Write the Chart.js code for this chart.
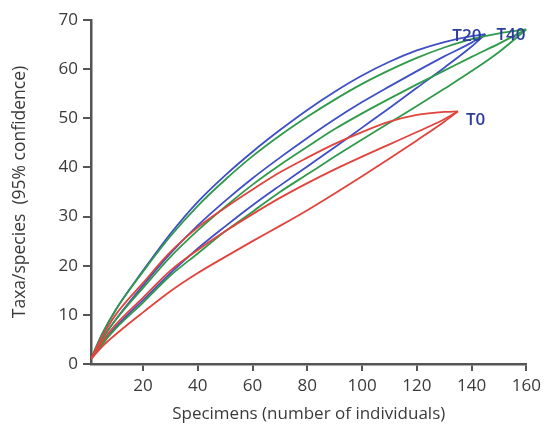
<!DOCTYPE html>
<html>
<head>
<meta charset="utf-8">
<script src="https://cdn.jsdelivr.net/npm/chart.js@4/dist/chart.umd.min.js"></script>
<style>
  html, body { margin: 0; padding: 0; background: #fff; }
  #wrap { width: 546px; height: 430px; }
</style>
</head>
<body>
<div id="wrap"><canvas id="chart"></canvas></div>
<script>
// tick labels
const xTicks = [20, 40, 60, 80, 100, 120, 140, 160];
const yTicks = [0, 10, 20, 30, 40, 50, 60, 70];

// T0 (red) - specimens and taxa (upper / mean / lower)
const t0X     = [1, 5, 10, 20, 30, 40, 50, 60, 70, 80, 90, 100, 110, 120, 130, 135];
const t0Upper = [1, 5.5, 10, 16.5, 22.8, 27.8, 31.8, 35.5, 39, 42, 44.8, 47.2, 49.3, 50.7, 51.3, 51.4];
const t0Mean  = [1, 4.5, 8, 13.5, 19, 23.2, 27, 30.5, 33.8, 36.8, 39.6, 42.2, 44.7, 47.2, 49.8, 51.4];
const t0Lower = [1, 3.5, 6, 10.5, 14.8, 18.5, 21.8, 25, 28.1, 31.3, 34.7, 38.2, 41.8, 45.5, 49.3, 51.4];

// T20 (blue)
const t20X     = [1, 5, 10, 20, 30, 40, 50, 60, 70, 80, 90, 100, 110, 120, 130, 140, 145];
const t20Upper = [1, 6, 11, 19, 26.5, 33, 38.4, 43.2, 47.6, 51.7, 55.4, 58.7, 61.5, 63.8, 65.5, 66.7, 67.1];
const t20Mean  = [1, 5, 9, 16, 22.5, 28.2, 33.2, 37.8, 42, 46, 49.8, 53.3, 56.5, 59.6, 62.6, 65.4, 67.1];
const t20Lower = [1, 4, 7.5, 13, 18.5, 23.5, 28, 32.3, 36.3, 40.2, 44.1, 48.1, 52.1, 56.2, 60.3, 64.6, 67.1];

// T40 (green)
const t40X     = [1, 5, 10, 20, 30, 40, 50, 60, 70, 80, 90, 100, 110, 120, 130, 140, 150, 160];
const t40Upper = [1, 6, 11, 18.8, 26, 32.2, 37.5, 42.3, 46.5, 50.3, 53.8, 57, 59.8, 62.3, 64.4, 66.1, 67.3, 68.1];
const t40Mean  = [1, 5, 9, 15.5, 21.8, 27.2, 32, 36.5, 40.5, 44.2, 47.8, 51, 54, 56.9, 59.7, 62.5, 65.2, 68.1];
const t40Lower = [1, 4, 7.2, 12.5, 18, 22.5, 27, 31, 35, 38.6, 42.2, 45.7, 49.1, 52.5, 56, 59.6, 63.5, 68.1];

const groupNames = ['T0', 'T20', 'T40'];

const RED = '#e0443c', BLUE = '#3f4fc6', GREEN = '#2f9a4a';
const FONT = "'Open Sans', 'Noto Sans', sans-serif";

function pts(xs, ys) {
  return xs.map((x, i) => ({ x: x, y: ys[i] }));
}
function line(xs, ys, color) {
  return {
    data: pts(xs, ys),
    borderColor: color,
    borderWidth: 1.8,
    pointRadius: 0,
    fill: false,
    cubicInterpolationMode: 'monotone'
  };
}

// end labels, drawn next to the end of each curve
const endLabels = {
  id: 'endLabels',
  afterDatasetsDraw(chart) {
    const ctx = chart.ctx;
    const xs = chart.scales.x, ys = chart.scales.y;
    const ends = [
      [t0X[t0X.length - 1], t0Mean[t0Mean.length - 1], 8, 9],
      [t20X[t20X.length - 1], t20Mean[t20Mean.length - 1], -33, 2],
      [t40X[t40X.length - 1], t40Mean[t40Mean.length - 1], -30, 6]
    ];
    ctx.save();
    ctx.font = "600 17px " + FONT;
    ctx.fillStyle = '#2c3c9c';
    ctx.textAlign = 'left';
    ctx.textBaseline = 'middle';
    ends.forEach((e, i) => {
      ctx.fillText(groupNames[i], xs.getPixelForValue(e[0]) + e[2], ys.getPixelForValue(e[1]) + e[3]);
    });
    ctx.restore();
  }
};

new Chart(document.getElementById('chart'), {
  type: 'line',
  data: {
    datasets: [
      line(t0X, t0Upper, RED), line(t0X, t0Mean, RED), line(t0X, t0Lower, RED),
      line(t40X, t40Upper, GREEN), line(t40X, t40Mean, GREEN), line(t40X, t40Lower, GREEN),
      line(t20X, t20Upper, BLUE), line(t20X, t20Mean, BLUE), line(t20X, t20Lower, BLUE)
    ]
  },
  options: {
    responsive: true,
    maintainAspectRatio: false,
    animation: false,
    layout: { padding: { left: 0, right: 17, top: 20, bottom: 0 } },
    plugins: { legend: { display: false }, tooltip: { enabled: false } },
    scales: {
      x: {
        type: 'linear',
        min: 1,
        max: 160,
        afterBuildTicks: (s) => { s.ticks = xTicks.map(v => ({ value: v })); },
        afterFit: (s) => { s.height = 66; },
        grid: { drawOnChartArea: false, drawTicks: true, tickLength: 7, color: '#555', lineWidth: 2 },
        border: { display: true, color: '#555', width: 2.5 },
        ticks: { color: '#3a3a3a', font: { family: FONT, size: 17 }, padding: 5, maxRotation: 0 },
        title: {
          display: true,
          text: 'Specimens (number of individuals)',
          color: '#3a3a3a',
          font: { family: FONT, size: 17 },
          padding: { top: 4, bottom: 6 }
        }
      },
      y: {
        min: 0,
        max: 70,
        afterBuildTicks: (s) => { s.ticks = yTicks.map(v => ({ value: v })); },
        afterFit: (s) => { s.width = 91; },
        grid: { drawOnChartArea: false, drawTicks: true, tickLength: 8, color: '#555', lineWidth: 2 },
        border: { display: true, color: '#555', width: 2.5 },
        ticks: { color: '#3a3a3a', font: { family: FONT, size: 17 }, padding: 5 },
        title: {
          display: true,
          text: 'Taxa/species  (95% confidence)',
          color: '#3a3a3a',
          font: { family: FONT, size: 17.5 },
          padding: { top: 10, bottom: 0 }
        }
      }
    }
  },
  plugins: [endLabels]
});
</script>
</body>
</html>
